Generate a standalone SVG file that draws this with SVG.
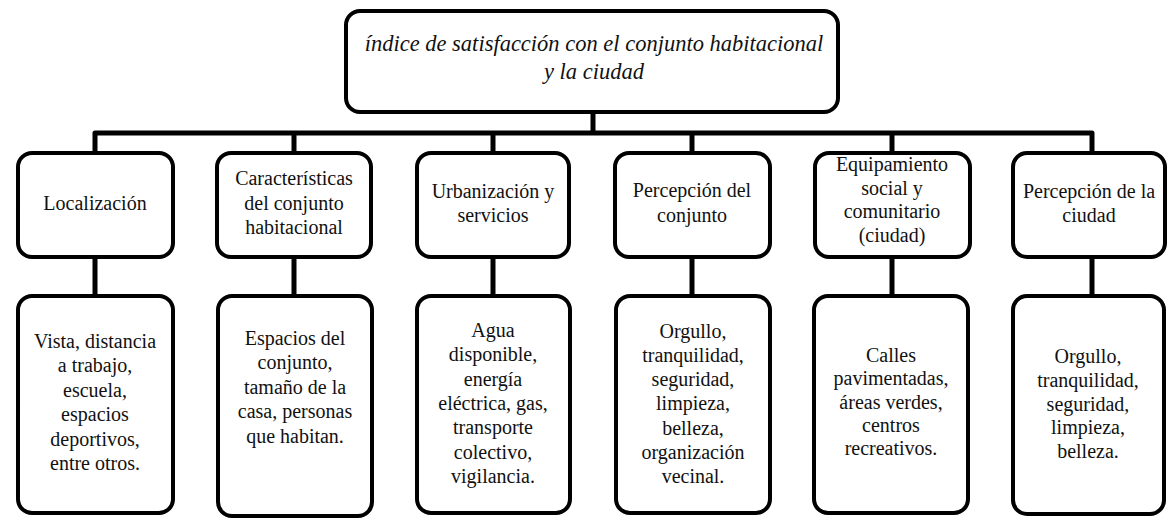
<svg xmlns="http://www.w3.org/2000/svg" width="1171" height="524" viewBox="0 0 1171 524" font-family="Liberation Serif">
<style>
.box{fill:#fff;stroke:#000;stroke-width:4}
.t{font-size:20px;fill:#111;text-anchor:middle}
.ti{font-size:22.5px;font-style:italic;fill:#111;text-anchor:middle}
.c{fill:none;stroke:#000;stroke-width:5;stroke-linejoin:round}
</style>
<rect width="1171" height="524" fill="#fff"/>
<g id="connectors">
<path class="c" d="M593 113V133M95 152V133H1092V152M294 133V152M493 133V152M692 133V152M892 133V152"/>
<path class="c" d="M95 257V295M294 257V295M493 257V295M692 257V295M892 257V295M1092 257V295"/>
</g>
<g id="root">
<rect class="box" x="346" y="11" width="492" height="101" rx="14"/>
<text class="ti" x="594" y="51">índice de satisfacción con el conjunto habitacional</text>
<text class="ti" x="594" y="79">y la ciudad</text>
</g>
<g id="n1">
<rect class="box" x="18" y="153" width="155" height="104" rx="14"/>
<text class="t" x="95" y="210">Localización</text>
</g>
<g id="n2">
<rect class="box" x="217" y="153" width="154" height="104" rx="14"/>
<text class="t" x="294" y="185">Características</text>
<text class="t" x="294" y="210">del conjunto</text>
<text class="t" x="294" y="234">habitacional</text>
</g>
<g id="n3">
<rect class="box" x="417" y="153" width="152" height="104" rx="14"/>
<text class="t" x="493" y="198">Urbanización y</text>
<text class="t" x="493" y="222">servicios</text>
</g>
<g id="n4">
<rect class="box" x="615" y="153" width="155" height="104" rx="14"/>
<text class="t" x="692" y="197">Percepción del</text>
<text class="t" x="692" y="222">conjunto</text>
</g>
<g id="n5">
<rect class="box" x="815" y="153" width="155" height="104" rx="14"/>
<text class="t" x="892" y="171">Equipamiento</text>
<text class="t" x="892" y="195">social y</text>
<text class="t" x="892" y="218">comunitario</text>
<text class="t" x="892" y="242">(ciudad)</text>
</g>
<g id="n6">
<rect class="box" x="1013" y="153" width="152" height="104" rx="14"/>
<text class="t" x="1089" y="198">Percepción de la</text>
<text class="t" x="1089" y="222">ciudad</text>
</g>
<g id="b1">
<rect class="box" x="18" y="296" width="155" height="217" rx="14"/>
<text class="t" x="95" y="348">Vista, distancia</text>
<text class="t" x="95" y="372">a trabajo,</text>
<text class="t" x="95" y="397">escuela,</text>
<text class="t" x="95" y="421">espacios</text>
<text class="t" x="95" y="446">deportivos,</text>
<text class="t" x="95" y="470">entre otros.</text>
</g>
<g id="b2">
<rect class="box" x="218" y="296" width="154" height="220" rx="14"/>
<text class="t" x="295" y="345">Espacios del</text>
<text class="t" x="295" y="369">conjunto,</text>
<text class="t" x="295" y="394">tamaño de la</text>
<text class="t" x="295" y="418">casa, personas</text>
<text class="t" x="295" y="443">que habitan.</text>
</g>
<g id="b3">
<rect class="box" x="417" y="296" width="153" height="217" rx="14"/>
<text class="t" x="493" y="337">Agua</text>
<text class="t" x="493" y="361">disponible,</text>
<text class="t" x="493" y="386">energía</text>
<text class="t" x="493" y="410">eléctrica, gas,</text>
<text class="t" x="493" y="434">transporte</text>
<text class="t" x="493" y="459">colectivo,</text>
<text class="t" x="493" y="483">vigilancia.</text>
</g>
<g id="b4">
<rect class="box" x="616" y="296" width="154" height="217" rx="14"/>
<text class="t" x="693" y="338">Orgullo,</text>
<text class="t" x="693" y="362">tranquilidad,</text>
<text class="t" x="693" y="386">seguridad,</text>
<text class="t" x="693" y="410">limpieza,</text>
<text class="t" x="693" y="435">belleza,</text>
<text class="t" x="693" y="459">organización</text>
<text class="t" x="693" y="483">vecinal.</text>
</g>
<g id="b5">
<rect class="box" x="814" y="296" width="154" height="217" rx="14"/>
<text class="t" x="891" y="362">Calles</text>
<text class="t" x="891" y="385">pavimentadas,</text>
<text class="t" x="891" y="409">áreas verdes,</text>
<text class="t" x="891" y="432">centros</text>
<text class="t" x="891" y="455">recreativos.</text>
</g>
<g id="b6">
<rect class="box" x="1013" y="296" width="151" height="218" rx="14"/>
<text class="t" x="1088" y="363">Orgullo,</text>
<text class="t" x="1088" y="387">tranquilidad,</text>
<text class="t" x="1088" y="411">seguridad,</text>
<text class="t" x="1088" y="434">limpieza,</text>
<text class="t" x="1088" y="458">belleza.</text>
</g>
</svg>
